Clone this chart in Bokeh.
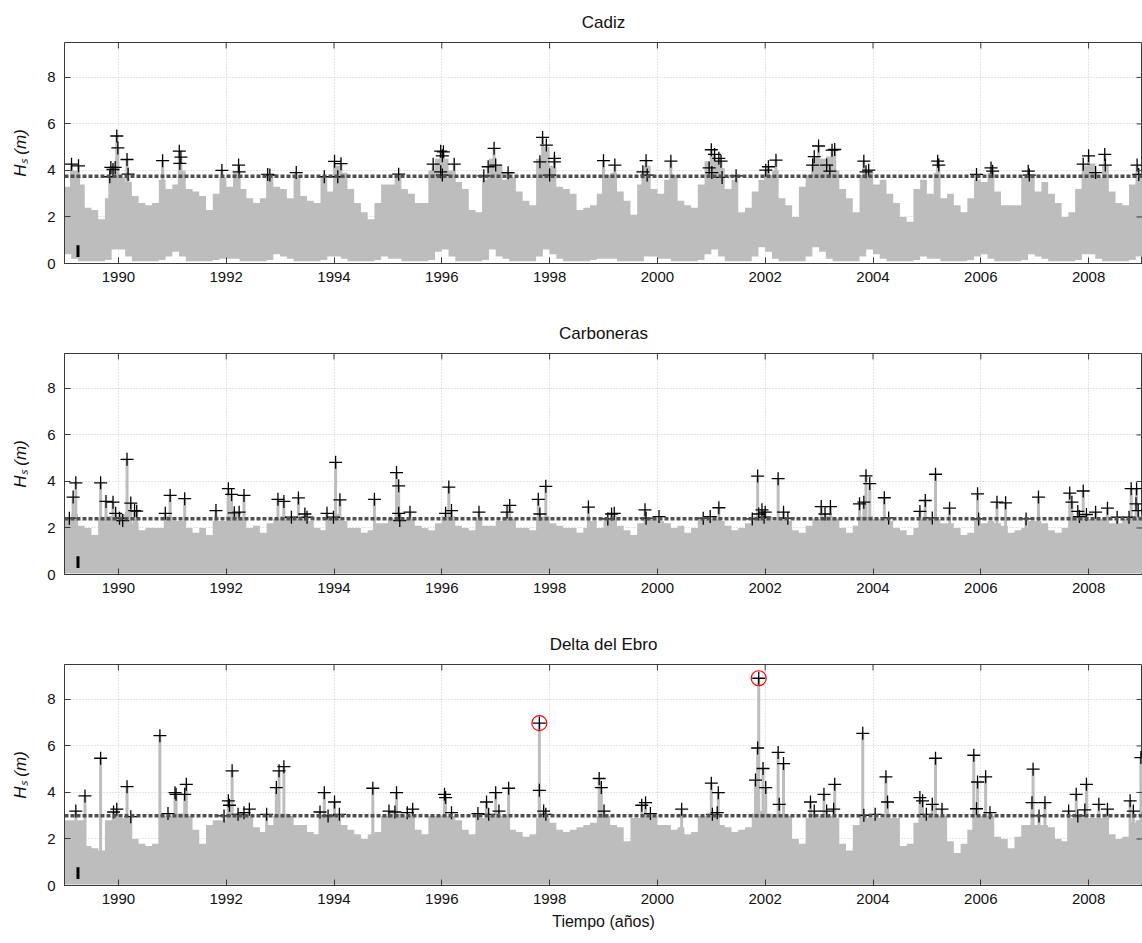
import math
from bokeh.plotting import figure
from bokeh.layouts import column
from bokeh.models import Range1d, FixedTicker, Span
from bokeh.embed import file_html
from bokeh.resources import INLINE

# ---------------- data ----------------
year_start = 1989.0
year_end = 2009.0
hs_top = 9.5
bins_per_year = 8
tick_years = [1990, 1992, 1994, 1996, 1998, 2000, 2002, 2004, 2006, 2008]
tick_hs = [0, 2, 4, 6, 8]
marker_bar = [1989.25, 0.28, 0.78]   # t, low, high of the small black bar

titles = ["Cadiz", "Carboneras", "Delta del Ebro"]
thresholds = [3.75, 2.4, 3.0]

# upper envelope of the hourly Hs series, 8 values per year (1989 ... 2008)
cadiz_env = [
    3.3, 4.0, 3.4, 2.4, 2.3, 1.9, 2.8, 4.2,
    3.7, 3.5, 2.9, 2.6, 2.5, 2.6, 3.6, 3.2,
    3.4, 4.0, 3.2, 3.1, 2.9, 2.3, 3.0, 3.7,
    3.3, 3.9, 3.2, 2.8, 2.6, 2.8, 3.8, 3.3,
    3.2, 2.8, 3.8, 2.9, 2.7, 2.6, 3.7, 3.1,
    4.2, 3.9, 3.2, 2.6, 2.2, 1.9, 2.6, 3.4,
    3.4, 3.8, 3.2, 3.0, 2.6, 2.6, 4.0, 4.5,
    4.5, 4.0, 3.5, 3.2, 2.3, 2.2, 3.6, 4.5,
    4.2, 3.6, 3.7, 3.1, 2.7, 2.5, 4.5, 5.0,
    4.2, 3.3, 3.2, 3.0, 2.3, 2.4, 2.5, 3.0,
    3.8, 3.9, 3.1, 2.7, 2.1, 3.4, 4.2, 3.2,
    3.0, 3.6, 3.8, 2.7, 2.5, 2.4, 3.4, 4.4,
    4.4, 4.1, 3.2, 3.6, 2.2, 2.4, 3.1, 3.6,
    3.8, 4.0, 2.8, 2.5, 2.0, 3.3, 3.8, 4.6,
    4.5, 4.6, 4.0, 3.2, 2.8, 2.2, 3.8, 4.0,
    3.4, 3.6, 3.0, 2.6, 2.0, 1.8, 3.2, 3.6,
    3.0, 3.9, 2.8, 3.0, 2.5, 2.2, 2.8, 3.6,
    3.5, 3.9, 3.1, 2.5, 2.5, 2.5, 3.7, 3.8,
    3.1, 3.5, 3.0, 2.6, 2.0, 2.2, 3.2, 4.2,
    4.3, 3.7, 4.2, 3.1, 2.6, 2.5, 3.4, 3.9,
]
cadiz_floor = [
    0.4, 0.2, 0.1, 0.1, 0.1, 0.1, 0.15, 0.6,
    0.6, 0.3, 0.1, 0.1, 0.1, 0.1, 0.15, 0.3,
    0.5, 0.3, 0.1, 0.1, 0.1, 0.1, 0.15, 0.2,
    0.2, 0.2, 0.1, 0.1, 0.1, 0.1, 0.15, 0.4,
    0.3, 0.2, 0.1, 0.1, 0.1, 0.1, 0.15, 0.3,
    0.3, 0.2, 0.1, 0.1, 0.1, 0.1, 0.15, 0.3,
    0.2, 0.2, 0.1, 0.1, 0.1, 0.1, 0.15, 0.5,
    0.6, 0.3, 0.1, 0.1, 0.1, 0.1, 0.15, 0.6,
    0.3, 0.2, 0.1, 0.1, 0.1, 0.1, 0.3, 0.6,
    0.4, 0.2, 0.1, 0.1, 0.1, 0.1, 0.15, 0.2,
    0.2, 0.2, 0.1, 0.1, 0.1, 0.1, 0.3, 0.3,
    0.2, 0.2, 0.1, 0.1, 0.1, 0.1, 0.15, 0.4,
    0.6, 0.3, 0.1, 0.1, 0.1, 0.1, 0.3, 0.7,
    0.5, 0.2, 0.1, 0.1, 0.1, 0.1, 0.3, 0.7,
    0.5, 0.2, 0.1, 0.1, 0.1, 0.1, 0.3, 0.6,
    0.4, 0.2, 0.1, 0.1, 0.1, 0.1, 0.15, 0.3,
    0.2, 0.2, 0.1, 0.1, 0.1, 0.1, 0.15, 0.3,
    0.4, 0.2, 0.1, 0.1, 0.1, 0.1, 0.15, 0.4,
    0.3, 0.2, 0.1, 0.1, 0.1, 0.1, 0.15, 0.4,
    0.4, 0.2, 0.1, 0.1, 0.1, 0.1, 0.15, 0.3,
]
carboneras_env = [
    2.4, 2.6, 2.1, 2.0, 1.7, 2.4, 2.5, 2.5,
    2.6, 2.7, 2.2, 1.9, 2.0, 2.0, 2.0, 2.5,
    2.3, 2.3, 2.0, 1.8, 2.0, 1.7, 2.3, 2.3,
    2.5, 2.6, 2.4, 2.0, 2.1, 1.8, 2.2, 2.4,
    2.5, 2.4, 2.5, 2.4, 2.3, 2.0, 1.9, 2.4,
    2.6, 2.3, 2.0, 2.0, 1.8, 1.9, 2.2, 2.2,
    2.4, 2.6, 2.4, 2.4, 2.1, 2.0, 1.9, 2.2,
    2.5, 2.5, 2.1, 2.0, 1.9, 2.4, 2.1, 2.1,
    2.3, 2.4, 2.4, 2.0, 2.0, 1.9, 2.4, 2.5,
    2.2, 2.1, 2.0, 2.0, 1.8, 2.0, 2.3, 2.0,
    2.4, 2.5, 2.1, 1.9, 1.7, 2.2, 2.4, 2.4,
    2.3, 2.2, 2.0, 2.1, 1.8, 2.0, 2.4, 2.4,
    2.4, 2.3, 2.1, 1.9, 2.0, 2.2, 2.5, 2.5,
    2.5, 2.3, 2.4, 2.3, 1.9, 1.8, 2.1, 2.4,
    2.4, 2.5, 2.4, 2.0, 1.8, 2.1, 2.5, 2.5,
    2.4, 2.4, 2.3, 2.0, 1.9, 1.7, 2.0, 2.4,
    2.4, 2.4, 2.2, 2.2, 2.0, 1.7, 1.8, 2.4,
    2.2, 2.3, 2.2, 2.1, 1.8, 1.9, 2.0, 2.3,
    2.3, 2.2, 1.9, 1.8, 2.0, 2.4, 2.5, 2.5,
    2.4, 2.4, 2.4, 2.2, 2.2, 2.4, 2.4, 2.5,
]
ebro_env = [
    2.8, 2.8, 2.8, 1.7, 1.6, 1.5, 2.8, 3.0,
    2.9, 2.9, 2.0, 1.8, 1.7, 1.8, 3.0, 3.0,
    3.1, 3.1, 3.0, 2.4, 1.8, 2.6, 2.8, 2.8,
    3.1, 3.1, 3.1, 3.0, 2.5, 2.3, 2.6, 3.0,
    3.1, 3.0, 2.6, 2.6, 2.3, 2.2, 3.0, 3.0,
    3.0, 2.6, 2.4, 2.2, 2.0, 2.2, 2.3, 3.0,
    3.1, 3.1, 3.0, 3.0, 2.4, 2.2, 3.0, 3.0,
    3.0, 3.0, 2.8, 2.4, 2.2, 2.9, 2.9, 3.0,
    3.0, 3.0, 2.4, 2.3, 2.1, 2.2, 2.9, 2.9,
    2.7, 2.4, 2.3, 2.4, 2.5, 2.6, 2.7, 3.0,
    3.0, 2.6, 2.5, 1.9, 2.9, 2.9, 3.0, 3.0,
    2.6, 2.6, 2.4, 2.5, 2.2, 2.3, 3.0, 3.0,
    3.0, 2.6, 2.5, 2.3, 2.4, 2.5, 3.1, 3.2,
    3.1, 3.0, 3.0, 3.0, 2.0, 1.8, 2.9, 2.9,
    3.0, 3.0, 2.9, 1.8, 1.5, 2.6, 3.0, 2.9,
    2.9, 2.9, 2.9, 2.9, 1.7, 1.8, 2.7, 3.0,
    3.0, 3.0, 3.0, 1.9, 1.4, 1.8, 2.4, 3.0,
    3.0, 3.0, 2.1, 2.0, 1.6, 2.1, 2.6, 2.6,
    2.6, 2.6, 2.5, 2.0, 1.9, 2.9, 2.9, 2.9,
    2.9, 2.9, 2.9, 2.2, 2.0, 2.1, 2.7, 2.8,
]
calm_floor = [0.0, 0.04, 0.04]   # floor used for Carboneras and Delta del Ebro

# peaks over threshold (time in years, Hs in m)
cadiz_peak_t = [
    1989.13, 1989.26, 1989.84, 1989.86, 1989.90, 1989.94, 1989.97, 1989.99,
    1990.16, 1990.18, 1990.82, 1991.13, 1991.14, 1991.16, 1991.92,
    1992.23, 1992.24, 1992.77, 1992.81, 1993.30, 1993.82, 1994.01, 1994.07, 1994.13,
    1995.20, 1995.84, 1995.98, 1995.98, 1996.01, 1996.01, 1996.03,
    1996.23, 1996.78, 1996.86, 1996.97, 1997.00, 1997.23,
    1997.82, 1997.87, 1997.94, 1998.00, 1998.09, 1998.09,
    1999.00, 1999.21, 1999.73, 1999.79, 1999.81, 2000.25,
    2000.96, 2001.00, 2001.01, 2001.06, 2001.14, 2001.18, 2001.20, 2001.46,
    2002.01, 2002.06, 2002.20, 2002.88, 2002.91, 2002.99, 2003.14, 2003.20, 2003.24, 2003.29,
    2003.83, 2003.87, 2003.92, 2005.20, 2005.22, 2005.92, 2006.19, 2006.22, 2006.88, 2006.90,
    2007.90, 2008.00, 2008.13, 2008.30, 2008.31, 2008.90, 2008.93,
]
cadiz_peak_hs = [
    4.27, 4.20, 3.73, 4.13, 4.04, 4.13, 5.48, 4.97,
    4.47, 3.84, 4.42, 4.83, 4.30, 4.57, 4.00,
    4.23, 3.94, 3.83, 3.80, 3.91, 3.73, 4.39, 3.73, 4.29,
    3.84, 4.27, 4.83, 3.94, 4.63, 3.80, 4.80,
    4.27, 3.77, 4.16, 4.95, 4.23, 3.90,
    4.37, 5.42, 5.09, 3.80, 4.52, 4.37,
    4.42, 4.23, 3.94, 4.42, 3.80, 4.40,
    4.11, 4.89, 3.91, 4.69, 4.52, 4.40, 3.70, 3.77,
    4.01, 4.16, 4.44, 4.23, 4.59, 5.05, 4.23, 3.97, 4.87, 4.90,
    4.40, 3.94, 4.01, 4.40, 4.23, 3.83, 4.11, 3.97, 3.97, 3.80,
    4.27, 4.63, 3.91, 4.69, 4.23, 4.23, 3.83,
]
carboneras_peak_t = [
    1989.09, 1989.16, 1989.21, 1989.67, 1989.77, 1989.90, 1989.95,
    1990.02, 1990.08, 1990.16, 1990.23, 1990.30, 1990.34, 1990.87, 1990.96,
    1991.23, 1991.81, 1992.04, 1992.10, 1992.15, 1992.24, 1992.33, 1992.96,
    1993.07, 1993.21, 1993.34, 1993.46, 1993.50, 1993.87, 1993.99,
    1994.03, 1994.11, 1994.75, 1995.16, 1995.20, 1995.20, 1995.22, 1995.41,
    1996.07, 1996.13, 1996.18, 1996.69, 1997.21, 1997.26, 1997.79, 1997.82, 1997.93, 1998.72,
    1999.08, 1999.15, 1999.20, 1999.77, 1999.79, 2000.03, 2000.85, 2000.98,
    2001.14, 2001.76, 2001.86, 2001.88, 2001.94, 2001.98, 2002.00, 2002.24, 2002.34, 2002.42,
    2003.04, 2003.11, 2003.21, 2003.75, 2003.83, 2003.87, 2003.94,
    2004.21, 2004.29, 2004.87, 2004.97, 2005.10, 2005.16, 2005.42, 2005.94, 2005.96,
    2006.30, 2006.46, 2006.84, 2007.07, 2007.65, 2007.69, 2007.80, 2007.83, 2007.90, 2007.96,
    2008.13, 2008.35, 2008.53, 2008.75, 2008.79, 2008.88, 2008.89, 2008.92,
]
carboneras_peak_hs = [
    2.42, 3.33, 3.94, 3.94, 3.14, 3.11, 2.63,
    2.42, 2.32, 4.95, 3.07, 2.75, 2.72, 2.63, 3.40,
    3.26, 2.75, 3.69, 3.44, 2.65, 2.68, 3.40, 3.23,
    3.14, 2.46, 3.29, 2.60, 2.46, 2.63, 2.46,
    4.82, 3.21, 3.23, 4.38, 3.81, 2.63, 2.32, 2.68,
    2.63, 3.76, 2.75, 2.68, 2.68, 2.97, 3.23, 2.60, 3.79, 2.90,
    2.39, 2.60, 2.63, 2.78, 2.42, 2.49, 2.42, 2.49,
    2.87, 2.39, 4.23, 2.60, 2.78, 2.46, 2.68, 4.12, 2.68, 2.42,
    2.92, 2.60, 2.92, 3.04, 3.11, 4.24, 3.91,
    3.30, 2.43, 2.71, 3.18, 2.43, 4.31, 2.85, 3.47, 2.39,
    3.11, 3.08, 2.39, 3.33, 3.50, 3.11, 2.71, 2.49, 3.59, 2.58,
    2.68, 2.85, 2.46, 2.46, 3.69, 3.04, 3.69, 2.75,
]
ebro_peak_t = [
    1989.21, 1989.38, 1989.67, 1989.91, 1989.97, 1990.16, 1990.23, 1990.77, 1990.92,
    1991.05, 1991.07, 1991.23, 1991.26, 1991.96,
    1992.04, 1992.06, 1992.11, 1992.22, 1992.33, 1992.43, 1992.75, 1992.93, 1992.98,
    1993.07, 1993.74, 1993.82, 1993.89, 1994.01, 1994.10, 1994.72,
    1995.02, 1995.13, 1995.16, 1995.36, 1995.46,
    1996.05, 1996.07, 1996.18, 1996.67, 1996.83, 1996.87,
    1997.00, 1997.06, 1997.24, 1997.81, 1997.81, 1997.89, 1997.93,
    1998.92, 1998.96, 1999.01, 1999.71, 1999.78, 1999.87, 2000.45,
    2001.00, 2001.02, 2001.11, 2001.13, 2001.82, 2001.86, 2001.88, 2001.96, 2002.01,
    2002.24, 2002.26, 2002.34, 2002.84, 2002.91, 2003.09, 2003.14, 2003.27, 2003.29,
    2003.81, 2003.83, 2004.04, 2004.24, 2004.27, 2004.87, 2004.92, 2004.99,
    2005.10, 2005.16, 2005.28, 2005.87, 2005.92, 2005.94, 2006.09, 2006.17,
    2006.95, 2006.97, 2007.08, 2007.19, 2007.63, 2007.77, 2007.80, 2007.93, 2007.96,
    2008.19, 2008.35, 2008.77, 2008.83, 2008.97,
]
ebro_peak_hs = [
    3.20, 3.85, 5.47, 3.16, 3.28, 4.25, 2.96, 6.44, 3.09,
    3.99, 3.92, 3.92, 4.35, 2.99,
    3.64, 3.45, 4.93, 3.06, 3.13, 3.28, 3.06, 4.21, 4.93,
    5.11, 3.16, 3.99, 2.99, 3.59, 3.06, 4.18,
    3.20, 3.16, 3.99, 3.13, 3.28,
    3.92, 3.78, 3.13, 3.09, 3.59, 3.06,
    3.99, 3.20, 4.18, 6.98, 4.09, 3.20, 3.06,
    4.60, 4.21, 3.20, 3.45, 3.56, 3.09, 3.28,
    4.40, 3.06, 3.13, 3.99, 4.53, 5.91, 8.91, 5.03, 4.21,
    5.72, 3.49, 5.24, 3.59, 3.20, 3.92, 3.20, 3.28, 4.35,
    6.54, 3.02, 3.06, 4.67, 3.59, 3.78, 3.64, 3.06,
    3.49, 5.47, 3.28, 5.60, 3.30, 4.45, 4.67, 3.13,
    3.56, 5.00, 2.99, 3.56, 3.20, 3.92, 2.99, 3.25, 4.35,
    3.49, 3.28, 3.64, 3.20, 5.50,
]
ebro_circled_t = [1997.81, 2001.88]
ebro_circled_hs = [6.98, 8.91]

# ---------------- styling ----------------
FONT = "Liberation Sans"
GRAY = "#bdbdbd"
FRAME = "#3a3a3a"
TXT = "#111111"
W = 1142
LEFT = 64
TOP = 42
FRAME_H = 221
FRAME_W = W - LEFT
TICK_PX = 6


def make_panel(idx, env, floor, pk_t, pk_hs, last=False, circ_t=None, circ_hs=None):
    bottom = 58 if last else 48
    p = figure(width=W, height=TOP + FRAME_H + bottom, output_backend="svg",
               toolbar_location=None, x_range=Range1d(year_start, year_end),
               y_range=Range1d(0, hs_top), min_border_left=LEFT, min_border_right=0,
               min_border_top=TOP, min_border_bottom=bottom)
    p.title.text = titles[idx]
    p.title.align = "center"
    p.title.text_font = FONT
    p.title.text_font_size = "17px"
    p.title.text_font_style = "normal"
    p.title.text_color = TXT
    p.title.standoff = 21
    p.outline_line_color = FRAME
    p.background_fill_color = "white"
    p.border_fill_color = "white"

    # envelope of the hourly series (one step per 1/8 year, held to the bin end)
    n = len(env)
    xs = [year_start + i / bins_per_year for i in range(n)] + [year_end]
    low = floor if isinstance(floor, list) else [floor] * n
    up = list(env) + [env[-1]]
    low = list(low) + [low[-1]]
    if hasattr(p, "varea_step"):
        p.varea_step(x=xs, y1=low, y2=up, step_mode="after", fill_color=GRAY)
    else:
        p.vbar(x=[x + 0.5 / bins_per_year for x in xs[:-1]], width=1.5 / bins_per_year,
               bottom=low[:-1], top=up[:-1], fill_color=GRAY, line_color=None)
    # storm peaks in the hourly series
    p.segment(x0=pk_t, y0=[1.0] * len(pk_t), x1=pk_t, y1=pk_hs,
              line_color=GRAY, line_width=3)
    # small black bar
    p.segment(x0=[marker_bar[0]], y0=[marker_bar[1]], x1=[marker_bar[0]], y1=[marker_bar[2]],
              line_color="black", line_width=3)
    # threshold
    p.add_layout(Span(location=thresholds[idx], dimension="width", line_color="#505050",
                      line_width=3.5, line_dash="4 2"))
    # peaks over threshold
    p.scatter(pk_t, pk_hs, marker="cross", size=13, line_color="black", line_width=1.3)
    if circ_t is not None:
        p.scatter(circ_t, circ_hs, marker="circle", size=15, fill_color=None,
                  line_color="red", line_width=1.2)

    # inward ticks on the top and right frame edges
    dy = TICK_PX * hs_top / FRAME_H
    dx = TICK_PX * (year_end - year_start) / FRAME_W
    p.segment(x0=tick_years, y0=[hs_top] * len(tick_years), x1=tick_years,
              y1=[hs_top - dy] * len(tick_years), line_color=FRAME, line_width=1)
    p.segment(x0=[year_end] * len(tick_hs), y0=tick_hs, x1=[year_end - dx] * len(tick_hs),
              y1=tick_hs, line_color=FRAME, line_width=1)

    # axes
    for ax in (p.xaxis[0], p.yaxis[0]):
        ax.major_tick_in = TICK_PX
        ax.major_tick_out = 0
        ax.minor_tick_line_color = None
        ax.axis_line_color = FRAME
        ax.major_tick_line_color = FRAME
        ax.major_label_text_font = FONT
        ax.major_label_text_font_size = "15px"
        ax.major_label_text_color = TXT
    p.xaxis.ticker = FixedTicker(ticks=tick_years)
    p.yaxis.ticker = FixedTicker(ticks=tick_hs)
    p.xaxis.major_label_standoff = 8
    p.yaxis.major_label_standoff = 9

    p.xgrid.grid_line_color = "#c8c8c8"
    p.ygrid.grid_line_color = "#c8c8c8"
    p.xgrid.grid_line_dash = "1 2"
    p.ygrid.grid_line_dash = "1 2"
    p.xgrid.ticker = FixedTicker(ticks=tick_years)
    p.ygrid.ticker = FixedTicker(ticks=tick_hs)

    p.yaxis.axis_label = "H\u209b (m)"
    p.yaxis.axis_label_text_font = FONT
    p.yaxis.axis_label_text_font_size = "17px"
    p.yaxis.axis_label_text_font_style = "italic"
    p.yaxis.axis_label_text_color = TXT
    p.yaxis.axis_label_standoff = 14
    if last:
        p.xaxis.axis_label = "Tiempo (años)"
        p.xaxis.axis_label_text_font = FONT
        p.xaxis.axis_label_text_font_size = "16px"
        p.xaxis.axis_label_text_font_style = "normal"
        p.xaxis.axis_label_text_color = TXT
        p.xaxis.axis_label_standoff = 6
    return p


p1 = make_panel(0, cadiz_env, cadiz_floor, cadiz_peak_t, cadiz_peak_hs)
p2 = make_panel(1, carboneras_env, calm_floor[1], carboneras_peak_t, carboneras_peak_hs)
p3 = make_panel(2, ebro_env, calm_floor[2], ebro_peak_t, ebro_peak_hs, last=True,
                circ_t=ebro_circled_t, circ_hs=ebro_circled_hs)

layout = column(p1, p2, p3, spacing=0)
open("out.html", "w").write(file_html(layout, INLINE))
